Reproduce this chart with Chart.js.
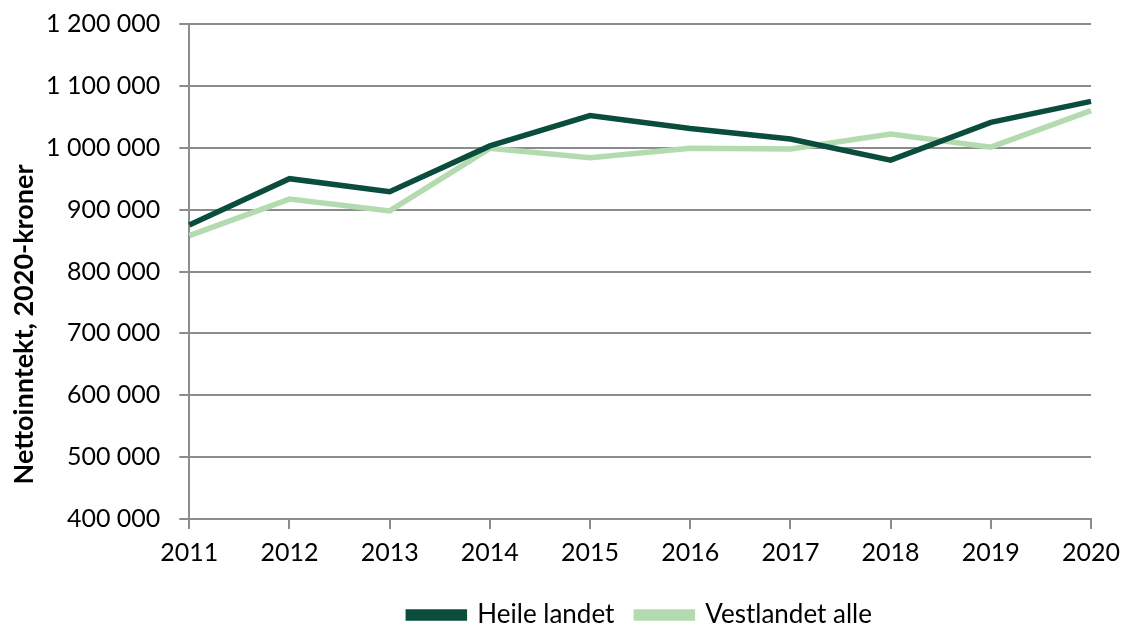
<!DOCTYPE html>
<html>
<head>
<meta charset="utf-8">
<script src="https://cdn.jsdelivr.net/npm/chart.js@4"></script>
<style>
  html, body { margin: 0; padding: 0; background: #fff; }
  #wrap { width: 1125px; height: 627px; }
</style>
</head>
<body>
<div id="wrap"><canvas id="chart" width="1125" height="627"></canvas></div>
<script>
// Data
const years = ["2011", "2012", "2013", "2014", "2015", "2016", "2017", "2018", "2019", "2020"];
const heileLandet = [875000, 950000, 929000, 1003000, 1052000, 1031000, 1014000, 980000, 1041000, 1075000];
const vestlandetAlle = [858000, 917000, 898000, 999000, 984000, 999000, 998000, 1022000, 1001000, 1060000];
const yMin = 400000, yMax = 1200000, yStep = 100000;
const yTitle = "Nettoinntekt, 2020-kroner";

const fontFamily = "Lato, 'Open Sans', sans-serif";
const gridColor = "#8c8c8c";

function fmt(v) {
  return String(v).replace(/\B(?=(\d{3})+(?!\d))/g, " ");
}

// centre the legend under the plot area instead of the whole canvas
const legendUnderPlot = {
  id: "legendUnderPlot",
  afterLayout(chart) {
    const lg = chart.legend, area = chart.chartArea;
    const shift = (area.left + area.right) / 2 - (lg.left + lg.right) / 2;
    lg.left += shift;
    lg.right += shift;
  }
};

// y axis title sits a bit below the middle of the axis in the original
const yAxisTitle = {
  id: "yAxisTitle",
  afterDraw(chart) {
    const c = chart.ctx, area = chart.chartArea;
    c.save();
    c.translate(24, (area.top + area.bottom) / 2 + 53);
    c.rotate(-Math.PI / 2);
    c.font = "bold 27px " + fontFamily;
    c.fillStyle = "#000";
    c.textAlign = "center";
    c.textBaseline = "middle";
    c.fillText(yTitle, 0, 0);
    c.restore();
  }
};

const ctx = document.getElementById("chart").getContext("2d");
new Chart(ctx, {
  type: "line",
  data: {
    labels: years,
    datasets: [{
      label: "Heile landet",
      data: heileLandet,
      borderColor: "#0b4d3c",
      backgroundColor: "#0b4d3c",
      borderWidth: 5.5,
      pointRadius: 0,
      tension: 0
    }, {
      label: "Vestlandet alle",
      data: vestlandetAlle,
      borderColor: "#b4dab0",
      backgroundColor: "#b4dab0",
      borderWidth: 5.5,
      pointRadius: 0,
      tension: 0
    }]
  },
  plugins: [legendUnderPlot, yAxisTitle],
  options: {
    responsive: false,
    animation: false,
    layout: { padding: { left: 27, right: 34, top: 24, bottom: -11 } },
    plugins: {
      tooltip: { enabled: false },
      legend: {
        position: "bottom",
        labels: {
          color: "#000",
          font: { family: fontFamily, size: 26 },
          boxWidth: 56,
          boxHeight: 6,
          padding: 22
        }
      }
    },
    scales: {
      x: {
        offset: false,
        afterFit: s => { s.height = 61; s.paddingLeft = 0; s.paddingRight = 0; },
        grid: {
          drawOnChartArea: false,
          drawTicks: true,
          tickLength: 10,
          color: gridColor,
          lineWidth: 2
        },
        border: { color: gridColor, width: 2 },
        ticks: {
          color: "#000",
          font: { family: fontFamily, size: 25 },
          padding: 9,
          maxRotation: 0
        }
      },
      y: {
        min: yMin,
        max: yMax,
        afterFit: s => { s.paddingTop = 0; s.paddingBottom = 0; },
        grid: {
          color: gridColor,
          lineWidth: 2,
          tickLength: 10
        },
        border: { color: gridColor, width: 2 },
        ticks: {
          stepSize: yStep,
          color: "#000",
          font: { family: fontFamily, size: 25 },
          padding: 19,
          callback: v => fmt(v)
        }
      }
    }
  }
});
</script>
</body>
</html>
